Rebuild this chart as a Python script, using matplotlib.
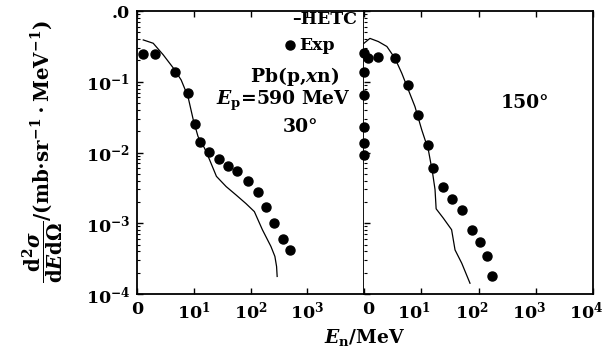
import matplotlib
matplotlib.use("Agg")
import matplotlib.pyplot as plt
from matplotlib.ticker import LogLocator, NullFormatter
from matplotlib.transforms import ScaledTranslation

plt.rcParams['font.family'] = ['DejaVu Serif']
plt.rcParams['font.weight'] = 'bold'
plt.rcParams['mathtext.fontset'] = 'custom'
plt.rcParams['mathtext.rm'] = 'DejaVu Serif:bold'
plt.rcParams['mathtext.bf'] = 'DejaVu Serif:bold'
plt.rcParams['mathtext.it'] = 'DejaVu Serif:italic:bold'
plt.rcParams['mathtext.sf'] = 'DejaVu Serif:bold'

# ---- data: 30 degrees ----
exp30_E = [1.26, 2.1, 4.6, 7.9, 10.4, 12.7, 18.6, 27.5, 40.6, 59, 92, 136, 188, 263, 380, 500]
exp30_y = [0.25, 0.25, 0.139, 0.070, 0.0254, 0.0143, 0.0103, 0.0080, 0.0065, 0.0054,
           0.0040, 0.00278, 0.00169, 0.0010, 0.00060, 0.00042]
hetc30_E = [1.29, 1.93, 2.9, 4.4, 6.0, 7.9, 9.8, 11.9, 15.5, 19.0, 25.1, 37.2, 56, 83,
            117, 162, 229, 269, 288, 295]
hetc30_y = [0.39, 0.35, 0.24, 0.155, 0.106, 0.062, 0.029, 0.0168, 0.0115, 0.0079, 0.0046,
            0.0033, 0.0025, 0.0019, 0.00146, 0.00081, 0.00047, 0.00034, 0.000245, 0.000177]

# ---- data: 150 degrees ----
exp150_E = [1.0, 1.0, 1.0, 1.0, 1.0, 1.0, 1.19, 1.78, 3.47, 5.96, 8.9, 13.3, 16.2, 24.3,
            33.9, 51, 76, 107, 138, 170]
exp150_y = [0.253, 0.139, 0.065, 0.0232, 0.0135, 0.0092, 0.215, 0.226, 0.215, 0.090, 0.034,
            0.0128, 0.0060, 0.0033, 0.0022, 0.00155, 0.00081, 0.00055, 0.00034, 0.00018]
hetc150_E = [1.0, 1.27, 1.78, 2.51, 3.47, 4.57, 5.96, 7.76, 10.2, 13.3, 15.8, 17.4, 18.2,
             24.3, 33.9, 38.9, 51, 71]
hetc150_y = [0.35, 0.41, 0.37, 0.315, 0.215, 0.132, 0.0766, 0.0446, 0.0209, 0.0109, 0.0051,
             0.0030, 0.0016, 0.00118, 0.00081, 0.00042, 0.000272, 0.000142]

xtick_vals_left = [1, 10, 100, 1000]
xtick_labels_left = ['0', r'$10^1$', r'$10^2$', r'$10^3$']
xtick_vals_right = [1, 10, 100, 1000, 10000]
xtick_labels_right = ['0', r'$10^1$', r'$10^2$', r'$10^3$', r'$10^4$']
ytick_vals = [1, 0.1, 0.01, 0.001, 0.0001]
ytick_labels = ['.0', r'$10^{-1}$', r'$10^{-2}$', r'$10^{-3}$', r'$10^{-4}$']

FS = 12.5
FA = 13.5
fig = plt.figure(figsize=(6.07, 3.52), dpi=100)
W, H = 607, 352
axL = fig.add_axes([137 / W, 1 - 294 / H, 227 / W, 283 / H])
axR = fig.add_axes([364 / W, 1 - 294 / H, 229 / W, 283 / H])

for ax in (axL, axR):
    ax.set_xscale('log')
    ax.set_yscale('log')
    ax.set_xlim(1, 1e4)
    ax.set_ylim(1e-4, 1.0)
    for s in ax.spines.values():
        s.set_linewidth(1.3)
    ax.xaxis.set_minor_locator(LogLocator(base=10, subs=range(2, 10)))
    ax.yaxis.set_minor_locator(LogLocator(base=10, subs=range(2, 10)))
    ax.xaxis.set_minor_formatter(NullFormatter())
    ax.yaxis.set_minor_formatter(NullFormatter())
    ax.tick_params(which='both', direction='in', top=True, right=False,
                   labelsize=FS, pad=5)
    ax.tick_params(which='major', length=4, width=1)
    ax.tick_params(which='minor', length=2.5, width=0.8)

axL.plot(hetc30_E, hetc30_y, color='black', lw=0.9, clip_on=False)
axL.plot(exp30_E, exp30_y, 'o', color='black', ms=6.5, clip_on=False)
axR.plot(hetc150_E, hetc150_y, color='black', lw=0.9, clip_on=False)
axR.plot(exp150_E, exp150_y, 'o', color='black', ms=6.5, clip_on=False)

axL.set_xticks(xtick_vals_left, xtick_labels_left)
axR.set_xticks(xtick_vals_right, xtick_labels_right)
axL.set_yticks(ytick_vals, ytick_labels)
axR.set_yticks(ytick_vals, [''] * len(ytick_vals))
axR.tick_params(axis='y', which='both', labelleft=False)
axR.spines['left'].set_visible(False)

# shift right-panel tick labels slightly, as in the scanned original
for i, lab in enumerate(axR.get_xticklabels()):
    dx = 4 if i == 0 else -7
    lab.set_transform(lab.get_transform() + ScaledTranslation(dx / 100, 0, fig.dpi_scale_trans))


def ax_frac(ax, px, py):
    x0 = 137 if ax is axL else 364
    w = 227 if ax is axL else 229
    return (px - x0) / w, (294 - py) / 283


# annotations
axL.text(*ax_frac(axL, 292, 20), '–HETC', transform=axL.transAxes, fontsize=12.5,
         ha='left', va='center')
axL.plot(*ax_frac(axL, 290, 45), 'o', color='black', ms=6.5, transform=axL.transAxes,
         clip_on=False)
axL.text(*ax_frac(axL, 299, 45), 'Exp', transform=axL.transAxes, fontsize=12.5,
         ha='left', va='center')
axL.text(*ax_frac(axL, 295, 76), 'Pb(p,$x$n)', transform=axL.transAxes, fontsize=FA,
         ha='center', va='center')
axL.text(*ax_frac(axL, 283, 101), r'$E_\mathrm{p}$=590 MeV', transform=axL.transAxes,
         fontsize=FA, ha='center', va='center')
axL.text(*ax_frac(axL, 300, 127), '30°', transform=axL.transAxes, fontsize=FA,
         ha='center', va='center')
axR.text(*ax_frac(axR, 525, 103), '150°', transform=axR.transAxes, fontsize=FA,
         ha='center', va='center')

fig.text(365 / W, 1 - 337 / H, r'$E_\mathrm{n}$/MeV', fontsize=FA, ha='center', va='center')
fig.text(43 / W, 1 - 152 / H,
         r'$\dfrac{\mathrm{d}^2\sigma}{\mathrm{d}E\mathrm{d}\Omega}$/(mb$\cdot$sr$^{-1}\cdot$MeV$^{-1}$)',
         fontsize=14.2, rotation=90, ha='center', va='center')

fig.savefig('out.png', dpi=100)
